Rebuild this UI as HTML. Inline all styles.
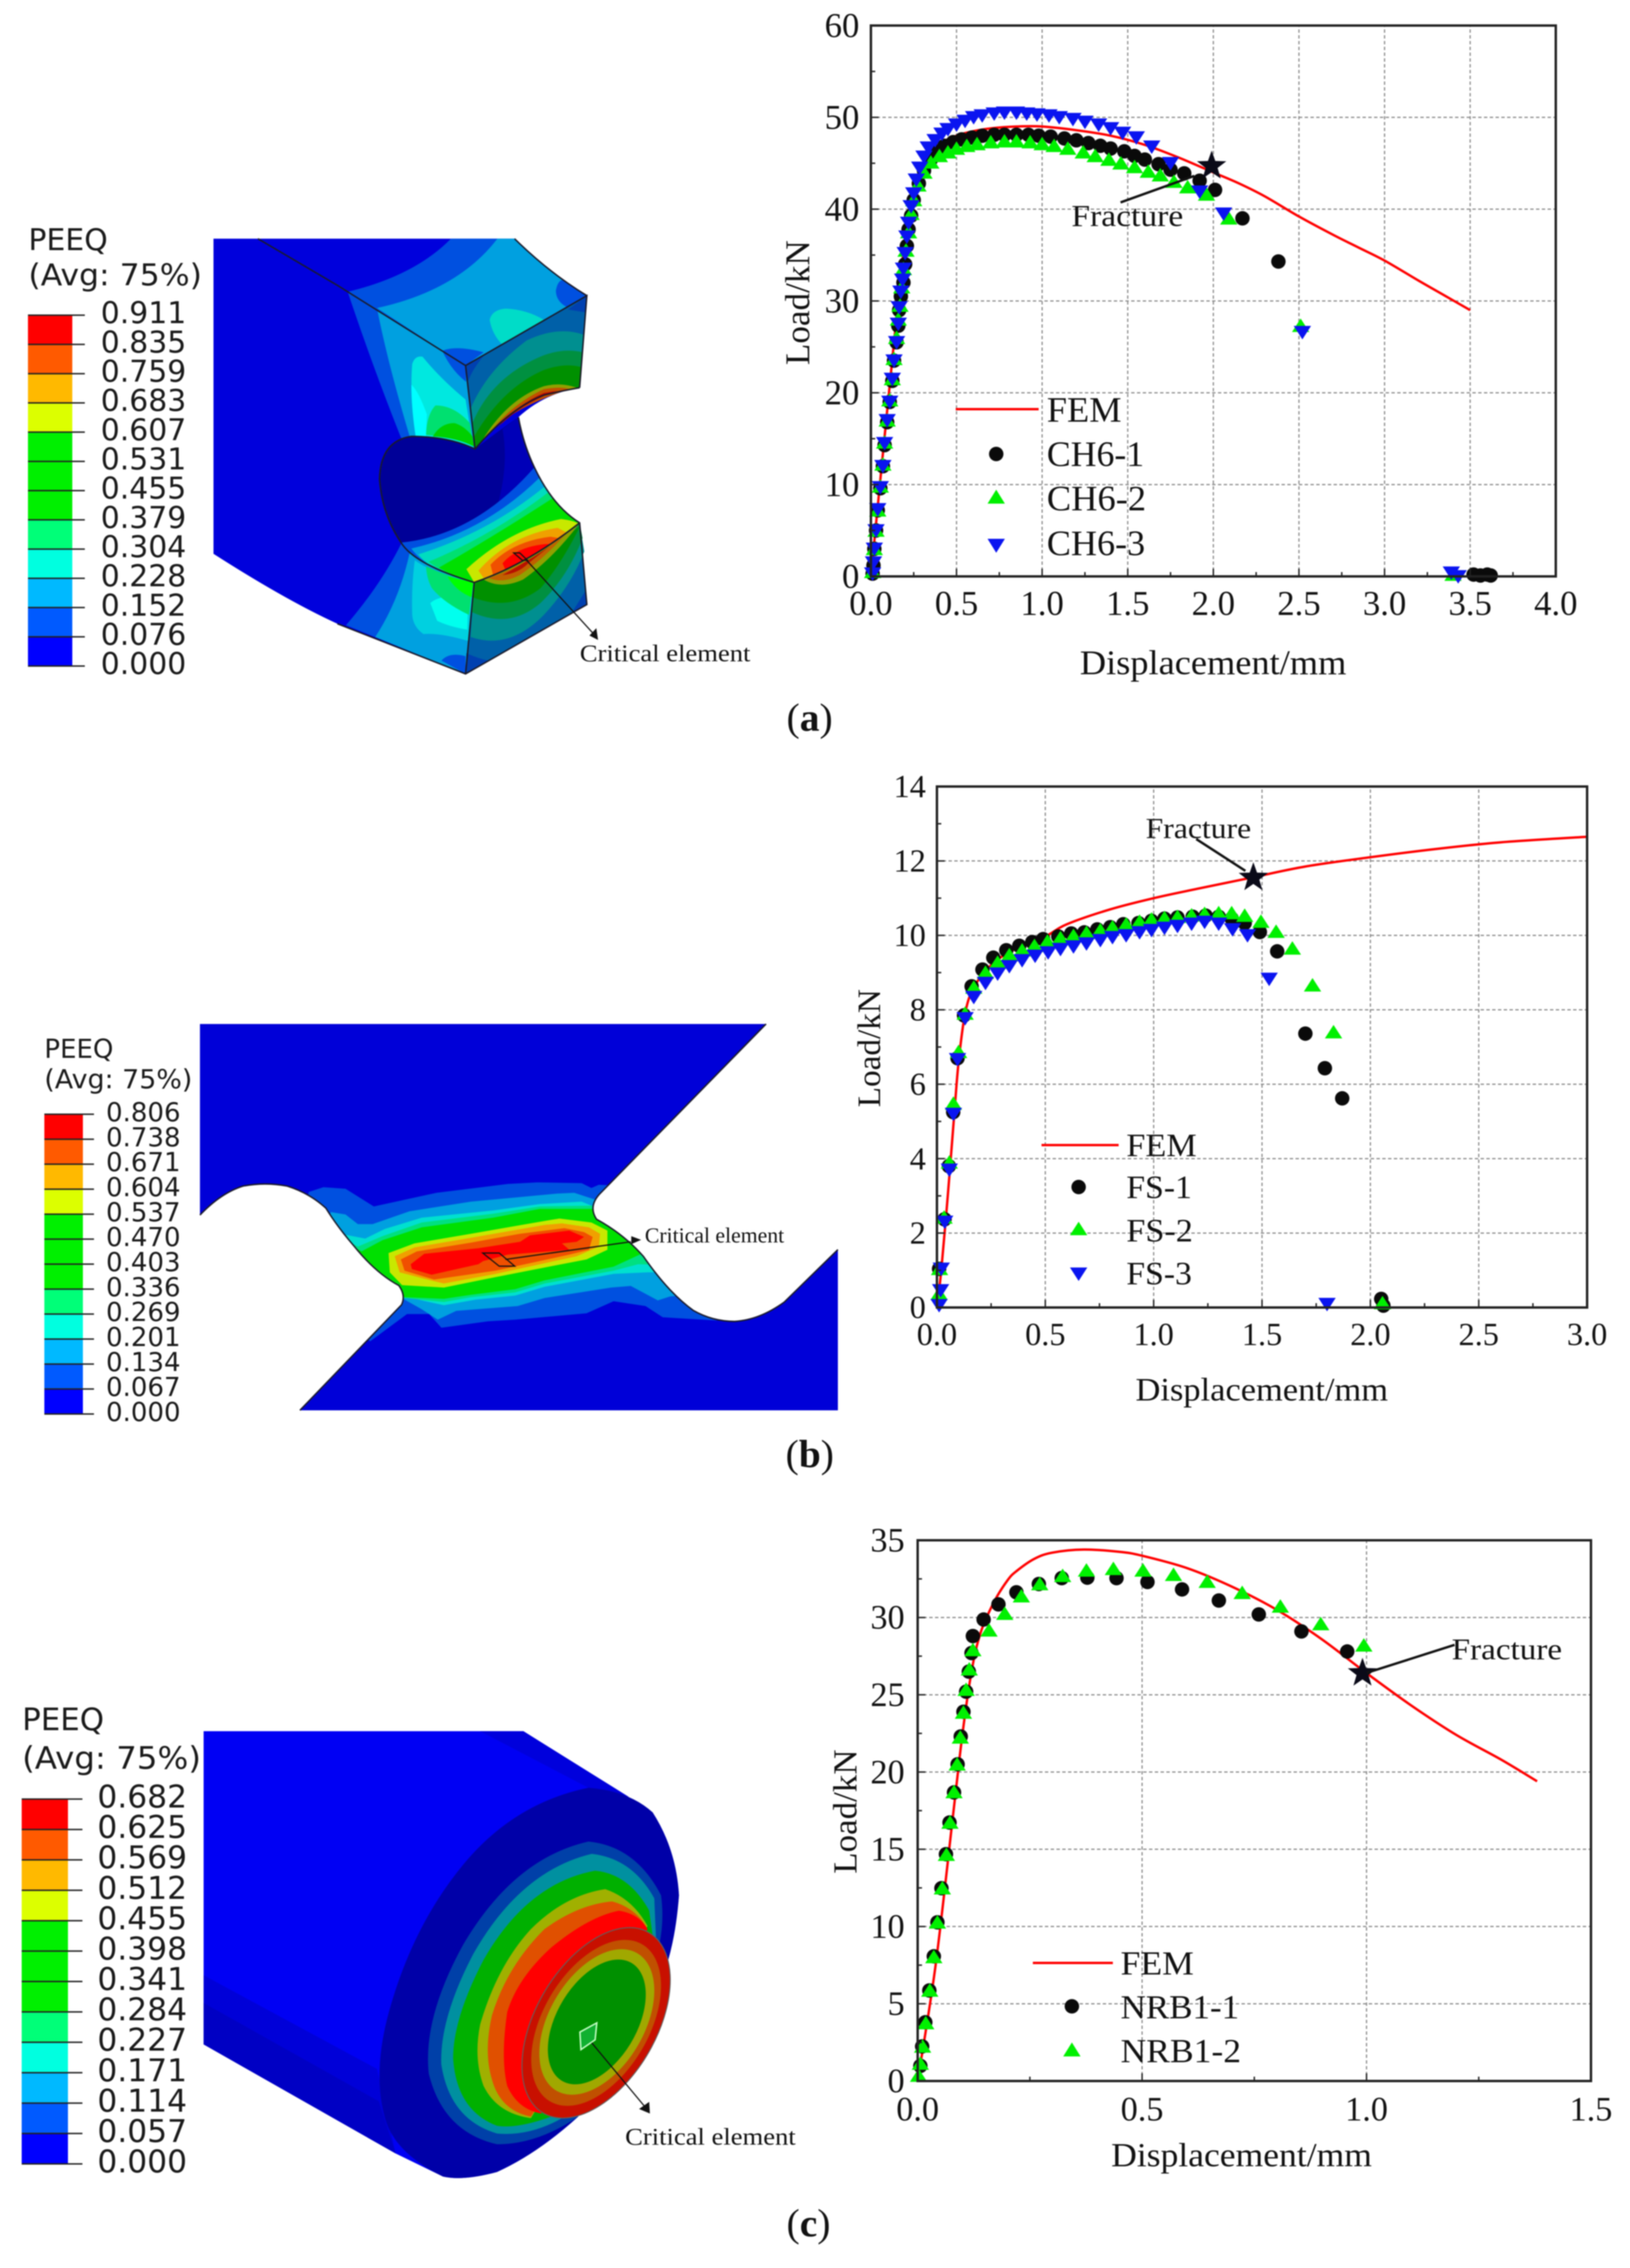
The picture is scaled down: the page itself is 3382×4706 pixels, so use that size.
<!DOCTYPE html>
<html lang="en">
<head>
<meta charset="utf-8">
<title>Load-displacement curves and PEEQ contours</title>
<style>
html,body{margin:0;padding:0;background:#fff;}
body{width:3382px;height:4706px;overflow:hidden;position:relative;}
svg{position:absolute;left:0;top:0;filter:blur(1.2px);}
text{font-family:"Liberation Serif",serif;fill:#111;}
.sans{font-family:"DejaVu Sans","Liberation Sans",sans-serif;fill:#1a1a1a;}
.edge{fill:none;stroke:#1a1a2a;stroke-width:3;vector-effect:non-scaling-stroke;}
.thin{fill:none;stroke:#111;stroke-width:2.5;vector-effect:non-scaling-stroke;}
</style>
</head>
<body>
<svg xmlns="http://www.w3.org/2000/svg" width="3382" height="4706" viewBox="0 0 3382 4706">
<defs>
  <clipPath id="bClip">
    <path transform="translate(0,2080) scale(1.146,0.573)" d="M362,78 L1387,78 L1085,695 Q1065,740 1080,785 Q1130,840 1165,920 Q1210,1050 1255,1115 Q1290,1155 1330,1155 Q1375,1150 1420,1085 L1517,895 L1517,1477 L543,1477 L727,1095 Q735,1060 722,1025 Q680,980 640,880 Q610,810 590,745 Q560,690 520,665 Q480,650 440,665 Q400,690 362,770Z"/>
  </clipPath>
</defs>

<!-- ============ FE CONTOUR A ============ -->
<g transform="translate(700,480) scale(0.357,0.6122)">
  <path fill="#0000dc" d="M-720,25 L1030,25 Q1230,140 1450,218 L1408,530 Q1200,550 1052,630 Q1080,720 1145,800 Q1250,930 1408,988 L1450,1265 L745,1500 L0,1330 Q-300,1250 -720,1093Z"/>
  <!-- upper front face -->
  <path fill="#0050e0" d="M60,205 L745,455 L795,735 L370,700 Q200,450 60,205Z"/>
  <path fill="#00a0e0" d="M230,260 L745,455 L795,735 L420,695 Q290,440 230,260Z"/>
  <path fill="#00e8e0" d="M435,450 Q450,420 495,425 Q600,500 745,570 L790,730 L455,695 Q420,550 435,450Z"/>
  <path fill="#00ffff" d="M430,520 Q470,540 520,620 L515,695 L455,695 Q430,600 430,520Z"/>
  <path fill="#00e070" d="M515,690 Q520,620 570,590 Q680,590 770,650 L790,725 Q650,695 515,690Z"/>
  <path fill="#00d000" d="M555,695 Q600,650 680,650 Q740,660 785,695 L795,730 Q700,700 555,695Z"/>
  <path fill="#0050e0" d="M610,405 L745,455 L748,510 Q660,470 610,405Z"/>
  <!-- top face -->
  <path fill="#0050e0" d="M660,25 L1030,25 Q1230,140 1450,218 L745,455 L60,205 Q450,150 660,25Z"/>
  <path fill="#00a0e0" d="M930,25 L1030,25 Q1230,140 1450,218 L745,455 L230,260 Q700,200 930,25Z"/>
  <path fill="#00dcc8" d="M885,300 Q900,265 980,262 Q1100,265 1200,300 L960,385 Q900,350 885,300Z"/>
  <path fill="#0050e0" d="M1450,218 L1345,260 Q1270,240 1270,200 Q1280,170 1305,165Z"/>
  <path fill="#0050e0" d="M610,405 Q690,385 850,410 L745,455Z"/>
  <!-- upper right face -->
  <path fill="#0060a8" d="M745,455 L1450,218 L1408,530 Q1310,540 1200,555 Q1000,600 800,738Z"/>
  <path fill="#0040b0" d="M745,455 L860,415 Q780,470 755,515Z"/>
  <path fill="#0040b0" d="M1450,218 L1340,265 L1445,275Z"/>
  <path fill="#008f90" d="M775,600 Q870,470 1100,370 Q1280,320 1430,350 L1408,530 Q1310,540 1200,555 Q1000,600 800,738Z"/>
  <path fill="#009040" d="M785,650 Q900,490 1200,420 Q1320,395 1425,410 L1408,530 Q1310,540 1200,555 Q1000,600 800,738Z"/>
  <path fill="#009000" d="M795,695 Q960,530 1200,470 Q1320,445 1415,460 L1408,530 Q1310,540 1200,555 Q1000,600 800,738Z"/>
  <path fill="#90a000" d="M830,720 Q980,570 1200,525 Q1300,510 1400,532 L1200,555 Q1000,600 800,738Z"/>
  <path fill="#c05000" d="M870,695 Q1000,590 1200,535 Q1300,525 1350,535 Q1000,600 870,695Z"/>
  <path fill="#c00000" d="M930,665 Q1050,585 1200,548 L1280,540 Q1080,580 930,665Z"/>
  <!-- hole surface -->
  <path fill="#000098" d="M800,738 Q650,695 430,695 Q250,710 245,840 Q260,960 370,1055 Q600,1040 800,990 Q1000,930 1145,800 Q1080,720 1052,630 Q950,670 800,738Z"/>
  <path fill="#0000b8" d="M1052,630 Q1080,720 1145,800 Q1040,900 920,950 Q1000,800 960,670Z"/>
  <!-- lower left face -->
  <path fill="#0050e0" d="M370,1060 Q500,1150 795,1190 L745,1500 L50,1335 Q250,1200 370,1060Z"/>
  <path fill="#00a0e0" d="M420,1090 Q550,1150 795,1190 L745,1500 L220,1375 Q360,1250 420,1090Z"/>
  <path fill="#00d0e0" d="M450,1115 Q560,1160 795,1190 L770,1390 Q600,1360 500,1365 Q440,1340 435,1300 Q430,1200 450,1115Z"/>
  <path fill="#00ffee" d="M540,1260 Q620,1220 760,1260 L755,1350 Q650,1340 580,1320Z"/>
  <path fill="#00e070" d="M515,1135 Q640,1170 790,1190 L765,1300 Q620,1260 550,1210 Q520,1180 515,1135Z"/>
  <path fill="#00ff00" d="M640,1170 L790,1190 L780,1240 Q690,1220 640,1170Z"/>
  <path fill="#0050e0" d="M605,1455 Q650,1425 745,1440 L745,1500Z"/>
  <!-- neck bands -->
  <path fill="#0050e0" d="M370,1055 Q800,1030 1145,800 Q1250,930 1408,988 Q1100,1130 795,1190 Q500,1150 370,1055Z"/>
  <path fill="#00a0e0" d="M430,1075 Q850,1020 1175,835 Q1260,930 1408,988 Q1100,1130 795,1190 Q520,1150 430,1075Z"/>
  <path fill="#00dcc0" d="M470,1095 Q880,1020 1205,865 Q1280,940 1408,988 Q1100,1130 795,1190 Q560,1160 470,1095Z"/>
  <path fill="#00e070" d="M530,1120 Q900,1030 1225,885 Q1300,950 1408,988 Q1100,1130 795,1190 Q620,1160 530,1120Z"/>
  <path fill="#00e000" d="M590,1140 Q920,1030 1250,905 Q1320,960 1408,988 Q1100,1130 795,1190 Q680,1170 590,1140Z"/>
  <path fill="#c8e800" d="M750,1145 Q1000,1010 1300,975 Q1370,980 1400,990 Q1100,1130 795,1190Z"/>
  <path fill="#f0a000" d="M820,1150 Q1000,1030 1280,1005 L1330,1020 Q1100,1130 850,1175Z"/>
  <path fill="#f05000" d="M890,1130 Q1020,1050 1240,1035 L1290,1040 Q1100,1120 905,1165Z"/>
  <path fill="#ff0000" d="M960,1125 Q1040,1070 1210,1060 L1240,1060 Q1100,1120 975,1145Z"/>
  <!-- lower right face -->
  <path fill="#0060a8" d="M795,1190 Q1100,1130 1408,988 L1450,1265 L745,1500Z"/>
  <path fill="#0040b0" d="M745,1500 L750,1430 Q830,1450 880,1455Z"/>
  <path fill="#0040b0" d="M1450,1265 L1365,1290 Q1420,1240 1445,1215Z"/>
  <path fill="#008f90" d="M775,1375 Q1000,1420 1200,1300 Q1360,1200 1435,1085 L1408,988 Q1100,1130 795,1190Z"/>
  <path fill="#009040" d="M780,1290 Q1000,1350 1180,1260 Q1340,1170 1425,1040 L1408,988 Q1100,1130 795,1190Z"/>
  <path fill="#009000" d="M785,1240 Q1000,1290 1180,1210 Q1300,1130 1410,1000 Q1100,1130 795,1190Z"/>
  <path fill="#90a000" d="M850,1180 Q950,1215 1080,1180 Q1250,1110 1400,995 Q1100,1130 850,1180Z"/>
  <path fill="#c06000" d="M880,1175 Q960,1195 1060,1165 Q1200,1110 1320,1030 Q1100,1130 880,1175Z"/>
  <path fill="#b81000" d="M960,1165 Q1050,1160 1110,1125 L1240,1065 Q1100,1120 960,1165Z"/>
  <path class="edge" d="M-462,25 L0,183 L745,455 L1450,218 L1408,530 M745,455 L800,738 M800,738 Q1000,600 1200,555 Q1310,540 1408,530 M1030,25 Q1230,140 1450,218 M800,738 Q650,695 430,695 Q250,710 245,840 Q260,960 370,1055 Q450,1130 795,1190 Q1100,1130 1408,988 M795,1190 L745,1500 M1052,630 Q1080,720 1145,800 Q1250,930 1408,988 L1450,1265 L745,1500 L0,1330"/>
  <path class="thin" d="M1025,1090 L1060,1090 L1105,1115 L1075,1115Z"/>
  <path class="thin" d="M1100,1115 L1490,1365"/>
  <path fill="#111" d="M1515,1385 L1465,1370 L1505,1345Z"/>
</g>
<text x="1203" y="1372" font-size="50" textLength="354" lengthAdjust="spacingAndGlyphs">Critical element</text>
<g id="cbA"></g>
<text class="sans" x="59" y="519" font-size="62">PEEQ</text>
<text class="sans" x="59" y="592" font-size="62" textLength="360" lengthAdjust="spacingAndGlyphs">(Avg: 75%)</text>

<!-- ============ FE CONTOUR B ============ -->
<path fill="#0000d8" transform="translate(0,2080) scale(1.146,0.573)" d="M362,78 L1387,78 L1085,695 Q1065,740 1080,785 Q1130,840 1165,920 Q1210,1050 1255,1115 Q1290,1155 1330,1155 Q1375,1150 1420,1085 L1517,895 L1517,1477 L543,1477 L727,1095 Q735,1060 722,1025 Q680,980 640,880 Q610,810 590,745 Q560,690 520,665 Q480,650 440,665 Q400,690 362,770Z"/>
<g clip-path="url(#bClip)">
 <g transform="translate(620,2380) scale(0.5102,0.3333)">
  <path fill="#0050e0" d="M40,280 L100,250 L190,260 L305,370 L560,285 L850,230 L970,220 L1150,225 L1190,255 L1220,235 L1300,240 L1700,700 L1700,1080 L1480,1060 L1410,990 L1280,960 L1170,1035 L880,1075 L770,1085 L580,1125 L530,1040 L440,1040 L290,1210 L0,800Z"/>
  <path fill="#00a0e0" d="M130,405 L190,420 L240,480 L300,480 L450,400 L700,340 L1050,290 L1120,285 L1210,330 L1600,700 L1600,920 L1510,930 L1460,955 L1350,865 L1270,875 L1000,940 L890,990 L640,1020 L565,1075 L500,1010 L430,950 L100,700Z"/>
  <path fill="#00e0d0" d="M185,545 L270,570 L350,510 L500,440 L790,395 L980,355 L1150,340 L1215,380 L1600,600 L1600,780 L1420,780 L1280,790 L1000,870 L880,925 L720,950 L590,985 L530,965 L430,930 L100,500Z"/>
  <path fill="#00e080" d="M240,620 L340,555 L500,470 L790,415 L980,370 L1190,365 L1600,600 L1600,740 L1380,730 L1280,770 L1000,850 L880,905 L700,935 L590,965 L430,940 L100,500Z"/>
  <path fill="#00e000" d="M255,650 L340,580 L500,500 L790,440 L980,385 L1200,385 L1600,500 L1400,660 L1280,745 L1000,830 L880,885 L700,920 L590,945 L430,935 L100,500Z"/>
  <path fill="#c8e800" d="M365,660 L470,600 L700,540 L1000,460 L1060,445 L1190,470 L1255,520 L1255,640 L1170,700 L1000,750 L800,810 L590,875 L420,860 L370,780Z"/>
  <path fill="#f0a000" d="M390,680 L470,625 L700,565 L1000,485 L1070,475 L1180,500 L1225,540 L1220,620 L1130,680 L800,790 L590,850 L510,820 L410,780Z"/>
  <path fill="#f05000" d="M415,700 L480,650 L700,595 L900,540 L1080,505 L1160,530 L1195,560 L1180,640 L1100,670 L800,770 L550,825 L430,770Z"/>
  <path fill="#ff0000" d="M455,730 L510,665 L730,630 L900,590 L940,550 L1100,520 L1160,560 L1130,590 L1070,600 L1100,640 L850,670 L750,710 L730,730 L540,795 L460,760Z"/>
 </g>
</g>
<path class="edge" transform="translate(0,2080) scale(1.146,0.573)" d="M1387,78 L1085,695 Q1065,740 1080,785 Q1130,840 1165,920 Q1210,1050 1255,1115 Q1290,1155 1330,1155 Q1375,1150 1420,1085 L1517,895 M543,1477 L727,1095 Q735,1060 722,1025 Q680,980 640,880 Q610,810 590,745 Q560,690 520,665 Q480,650 440,665 Q400,690 362,770"/>
<g transform="translate(620,2380) scale(0.5102,0.3333)">
  <path class="thin" d="M748,660 L815,660 L878,742 L815,742Z M840,700 L1350,590"/>
  <path fill="#111" d="M1392,578 L1352,555 L1352,605Z"/>
</g>
<text x="1338" y="2578" font-size="44" textLength="289" lengthAdjust="spacingAndGlyphs">Critical element</text>
<g id="cbB"></g>
<text class="sans" x="92" y="2195" font-size="54">PEEQ</text>
<text class="sans" x="92" y="2258" font-size="54" textLength="307" lengthAdjust="spacingAndGlyphs">(Avg: 75%)</text>

<!-- ============ FE CONTOUR C ============ -->
<g transform="translate(400,3550) scale(0.7015,0.6378)">
  <path fill="#0000f4" d="M32,66 L978,66 L1360,330 Q1430,450 1438,600 Q1430,720 1405,815 L1140,1320 Q1020,1440 900,1500 Q800,1530 740,1515 L600,1440 L32,1085Z"/>
  <path fill="#0000d8" d="M32,860 L545,1165 L600,1440 L32,1085Z"/>
  <path fill="#0000c4" d="M32,950 L550,1270 L600,1440 L32,1085Z"/>
  <path fill="#0000dc" d="M850,66 L978,66 L1290,280 L1170,250Z"/>
  <path fill="#0000a8" d="M1170,250 Q1290,260 1360,330 Q1430,450 1438,600 Q1430,720 1405,815 L1140,1320 Q1020,1440 900,1500 Q800,1530 740,1515 Q600,1440 570,1330 Q530,1180 580,980 Q650,700 800,500 Q950,300 1170,250Z"/>
  <g>
    <path fill="#0040a8" d="M1170,425 Q1310,440 1385,600 Q1395,680 1380,760 L1140,1320 Q1020,1410 900,1410 Q740,1370 698,1180 Q680,1000 800,760 Q950,480 1170,425Z"/>
    <path fill="#0090a0" d="M1180,465 Q1300,480 1365,610 L1370,740 L1100,1320 Q1000,1385 900,1375 Q760,1330 735,1150 Q730,1000 830,790 Q970,520 1180,465Z"/>
    <path fill="#00b000" d="M1190,520 Q1290,530 1350,650 L1360,730 L1060,1320 Q960,1360 900,1350 Q780,1300 770,1130 Q770,1000 860,810 Q990,560 1190,520Z"/>
    <path fill="#a0b000" d="M1220,580 Q1300,610 1345,700 L1000,1325 Q900,1310 860,1220 Q830,1130 850,1020 Q900,830 1000,710 Q1100,600 1220,580Z"/>
    <path fill="#e05000" d="M1240,620 Q1310,640 1345,710 L1000,1320 Q910,1300 885,1200 Q860,1110 885,990 Q930,830 1040,710 Q1140,630 1240,620Z"/>
    <path fill="#ff0000" d="M1260,650 Q1320,660 1345,710 L1030,1310 Q960,1295 930,1220 Q910,1130 930,980 Q960,870 1060,770 Q1170,670 1260,650Z"/>
  </g>
  <g>
    <ellipse fill="#c81000" stroke="#606060" stroke-width="2" vector-effect="non-scaling-stroke" cx="1193" cy="1015" rx="182" ry="333" transform="rotate(26 1193 1015)"/>
    <ellipse fill="#c05000" cx="1193" cy="1015" rx="160" ry="290" transform="rotate(26 1193 1015)"/>
    <ellipse fill="#a0a800" cx="1195" cy="1012" rx="143" ry="254" transform="rotate(26 1195 1012)"/>
    <ellipse fill="#009000" cx="1195" cy="1012" rx="121" ry="218" transform="rotate(26 1195 1012)"/>
  </g>
  <path fill="#10b030" stroke="#c8ffc8" stroke-width="3" vector-effect="non-scaling-stroke" d="M1145,1045 L1195,1015 L1190,1070 L1148,1102Z"/>
  <path class="thin" d="M1180,1080 L1335,1285"/>
  <path fill="#111" d="M1352,1310 L1320,1295 L1350,1272Z"/>
</g>
<text x="1297" y="4450" font-size="50" textLength="354" lengthAdjust="spacingAndGlyphs">Critical element</text>
<g id="cbC"></g>
<text class="sans" x="46" y="3590" font-size="64">PEEQ</text>
<text class="sans" x="46" y="3670" font-size="64" textLength="371" lengthAdjust="spacingAndGlyphs">(Avg: 75%)</text>

<!-- ============ CHARTS ============ -->
<g id="chartA"></g>
<g id="chartB"></g>
<g id="chartC"></g>

<!-- chart A titles, legend, annotation -->
<text x="2517" y="1399" font-size="72" text-anchor="middle" textLength="553" lengthAdjust="spacingAndGlyphs">Displacement/mm</text>
<text transform="translate(1679,628) rotate(-90)" font-size="72" text-anchor="middle" textLength="259" lengthAdjust="spacingAndGlyphs">Load/kN</text>
<text x="2223" y="469" font-size="64" textLength="232" lengthAdjust="spacingAndGlyphs">Fracture</text>
<line x1="2325" y1="420" x2="2478" y2="365" stroke="#111" stroke-width="5"/>
<g>
  <line x1="1983" y1="849" x2="2155" y2="849" stroke="#f00" stroke-width="5"/>
  <text x="2172" y="875" font-size="74" textLength="155" lengthAdjust="spacingAndGlyphs">FEM</text>
  <circle cx="2067" cy="942" r="15" fill="#0a0a0a"/>
  <text x="2172" y="967" font-size="74" textLength="202" lengthAdjust="spacingAndGlyphs">CH6-1</text>
  <path d="M2067,1016 L2085,1045 L2049,1045Z" fill="#00f000"/>
  <text x="2172" y="1059" font-size="74" textLength="206" lengthAdjust="spacingAndGlyphs">CH6-2</text>
  <path d="M2049,1118 L2085,1118 L2067,1147Z" fill="#0a14f0"/>
  <text x="2172" y="1152" font-size="74" textLength="204" lengthAdjust="spacingAndGlyphs">CH6-3</text>
</g>
<text x="1632" y="1516" font-size="82">(<tspan font-weight="bold">a</tspan>)</text>

<!-- chart B titles, legend, annotation -->
<text x="2618" y="2906" font-size="68" text-anchor="middle" textLength="524" lengthAdjust="spacingAndGlyphs">Displacement/mm</text>
<text transform="translate(1826,2175) rotate(-90)" font-size="68" text-anchor="middle" textLength="245" lengthAdjust="spacingAndGlyphs">Load/kN</text>
<text x="2377" y="1739" font-size="60" textLength="219" lengthAdjust="spacingAndGlyphs">Fracture</text>
<line x1="2482" y1="1741" x2="2584" y2="1807" stroke="#111" stroke-width="5"/>
<g>
  <line x1="2161" y1="2376" x2="2321" y2="2376" stroke="#f00" stroke-width="5"/>
  <text x="2337" y="2399" font-size="68" textLength="146" lengthAdjust="spacingAndGlyphs">FEM</text>
  <circle cx="2238" cy="2463" r="15" fill="#0a0a0a"/>
  <text x="2337" y="2486" font-size="68" textLength="136" lengthAdjust="spacingAndGlyphs">FS-1</text>
  <path d="M2238,2535 L2256,2563 L2220,2563Z" fill="#00f000"/>
  <text x="2337" y="2576" font-size="68" textLength="138" lengthAdjust="spacingAndGlyphs">FS-2</text>
  <path d="M2220,2630 L2256,2630 L2238,2658Z" fill="#0a14f0"/>
  <text x="2337" y="2665" font-size="68" textLength="136" lengthAdjust="spacingAndGlyphs">FS-3</text>
</g>
<text x="1630" y="3044" font-size="82">(<tspan font-weight="bold">b</tspan>)</text>

<!-- chart C titles, legend, annotation -->
<text x="2576" y="4495" font-size="70" text-anchor="middle" textLength="541" lengthAdjust="spacingAndGlyphs">Displacement/mm</text>
<text transform="translate(1777,3759) rotate(-90)" font-size="70" text-anchor="middle" textLength="258" lengthAdjust="spacingAndGlyphs">Load/kN</text>
<text x="3012" y="3443" font-size="62" textLength="229" lengthAdjust="spacingAndGlyphs">Fracture</text>
<line x1="3018" y1="3413" x2="2836" y2="3471" stroke="#111" stroke-width="5"/>
<g>
  <line x1="2143" y1="4073" x2="2309" y2="4073" stroke="#f00" stroke-width="5"/>
  <text x="2325" y="4097" font-size="70" textLength="152" lengthAdjust="spacingAndGlyphs">FEM</text>
  <circle cx="2224" cy="4163" r="15" fill="#0a0a0a"/>
  <text x="2325" y="4188" font-size="70" textLength="246" lengthAdjust="spacingAndGlyphs">NRB1-1</text>
  <path d="M2224,4238 L2242,4267 L2206,4267Z" fill="#00f000"/>
  <text x="2325" y="4279" font-size="70" textLength="250" lengthAdjust="spacingAndGlyphs">NRB1-2</text>
</g>
<text x="1632" y="4640" font-size="82">(<tspan font-weight="bold">c</tspan>)</text>
</svg>

<script>
/* ---------- colour bar labels ---------- */
const bandColors = ["#ff0000","#ff5a00","#ffb900","#dcff00","#00f000","#00f000","#00f000","#00ff78","#00ffe0","#00b9ff","#005aff","#0000ff"];
const cbLabelsA = ["0.911","0.835","0.759","0.683","0.607","0.531","0.455","0.379","0.304","0.228","0.152","0.076","0.000"];
const cbLabelsB = ["0.806","0.738","0.671","0.604","0.537","0.470","0.403","0.336","0.269","0.201","0.134","0.067","0.000"];
const cbLabelsC = ["0.682","0.625","0.569","0.512","0.455","0.398","0.341","0.284","0.227","0.171","0.114","0.057","0.000"];

/* ---------- chart A ---------- */
const aXTicks = ["0.0","0.5","1.0","1.5","2.0","2.5","3.0","3.5","4.0"];
const aYTicks = ["0","10","20","30","40","50","60"];
const aFemX = [0,0.1,0.2,0.25,0.3,0.4,0.5,0.6,0.7,0.85,1,1.2,1.4,1.6,1.8,2,2.15,2.3,2.5,2.7,2.85,3,3.2,3.35,3.5];
const aFemY = [0,19,37,42,44.5,47,48,48.5,48.8,49,49,48.6,48,47,45.6,44,42.8,41.4,39.2,37.2,35.8,34.4,32.2,30.6,29];
const aS1X = [0.01,0.015,0.02,0.03,0.04,0.055,0.07,0.08,0.095,0.11,0.125,0.135,0.15,0.16,0.165,0.175,0.19,0.2,0.21,0.22,0.235,0.25,0.28,0.31,0.35,0.39,0.43,0.48,0.53,0.59,0.65,0.72,0.78,0.85,0.92,0.98,1.05,1.13,1.2,1.27,1.34,1.4,1.48,1.54,1.6,1.68,1.75,1.83,1.92,2.01,2.17,2.38,3.52,3.56,3.6,3.62];
const aS1Y = [0.3,1.2,3,5,7.2,9.6,12,14.3,16.8,19,21.3,23.5,25.5,27.3,29,30.5,32,34,36,37.8,39.3,41,42.8,44.2,45.4,46.3,46.9,47.3,47.6,47.8,48,48.1,48.1,48.1,48.1,48,47.9,47.7,47.5,47.2,46.9,46.6,46.3,45.8,45.4,44.9,44.3,43.9,43.1,42.1,39,34.3,0.2,0.1,0.2,0.1];
const aS2X = [0.01,0.02,0.03,0.04,0.055,0.07,0.08,0.095,0.11,0.125,0.135,0.15,0.16,0.17,0.18,0.19,0.205,0.22,0.235,0.25,0.275,0.31,0.35,0.4,0.45,0.5,0.56,0.62,0.7,0.78,0.85,0.93,1,1.07,1.15,1.24,1.31,1.39,1.46,1.54,1.62,1.69,1.77,1.85,1.96,2.09,2.51,3.4];
const aS2Y = [0.5,3,5,7.2,9.8,12.2,14.6,17,19.2,21.5,23.7,26,28,29.5,31.5,33.5,35.5,37.5,39.5,41,42.6,44,45.1,45.8,46.2,46.6,46.9,47.1,47.3,47.4,47.4,47.3,47.1,46.9,46.6,46.2,45.8,45.4,45,44.6,44.1,43.7,43,42.4,41.6,39,27.3,0.2];
const aS3X = [0.01,0.015,0.02,0.03,0.04,0.055,0.07,0.08,0.095,0.11,0.125,0.135,0.15,0.16,0.165,0.175,0.185,0.19,0.2,0.21,0.22,0.235,0.25,0.265,0.285,0.31,0.335,0.375,0.415,0.45,0.5,0.55,0.6,0.65,0.72,0.78,0.85,0.91,0.97,1.04,1.1,1.18,1.25,1.33,1.4,1.47,1.55,1.64,1.75,1.92,2.06,2.52,3.39,3.43];
const aS3Y = [0.3,1.5,3,5,7.3,9.7,12,14.5,17,19,21.5,23.5,25.5,27.5,29.3,31,32.3,33.5,35.2,37,38.5,40.3,41.7,43.2,44.5,45.7,46.7,47.5,48.2,48.7,49.2,49.6,50,50.2,50.4,50.5,50.5,50.4,50.3,50.2,50,49.8,49.5,49.2,48.8,48.3,47.8,46.8,45,41.9,39.5,26.6,0.4,0];
const aStarX = [1.99];
const aStarY = [44.7];

/* ---------- chart B ---------- */
const bXTicks = ["0.0","0.5","1.0","1.5","2.0","2.5","3.0"];
const bYTicks = ["0","2","4","6","8","10","12","14"];
const bFemX = [0,0.02,0.05,0.08,0.1,0.13,0.17,0.25,0.35,0.5,0.6,0.8,1,1.2,1.45,1.7,2,2.3,2.6,3];
const bFemY = [0,1,3,5.2,6.6,7.9,8.6,9.2,9.6,9.97,10.3,10.7,11,11.25,11.55,11.85,12.1,12.32,12.5,12.65];
const bS1X = [0.01,0.035,0.055,0.075,0.095,0.125,0.16,0.21,0.26,0.32,0.38,0.44,0.49,0.56,0.62,0.68,0.74,0.8,0.86,0.93,0.99,1.05,1.11,1.18,1.24,1.3,1.36,1.42,1.49,1.57,1.7,1.79,1.87,2.05,2.06];
const bS1Y = [1.04,2.37,3.8,5.25,6.7,7.85,8.63,9.08,9.4,9.6,9.72,9.82,9.9,9.97,10.05,10.08,10.16,10.22,10.3,10.33,10.39,10.45,10.48,10.5,10.53,10.5,10.45,10.33,10.09,9.57,7.36,6.43,5.62,0.23,0.05];
const bS2X = [0.01,0.012,0.033,0.057,0.076,0.1,0.13,0.17,0.224,0.28,0.334,0.393,0.45,0.51,0.57,0.63,0.69,0.754,0.81,0.873,0.935,0.99,1.05,1.11,1.175,1.235,1.3,1.36,1.42,1.495,1.565,1.64,1.733,1.83,2.056];
const bS2Y = [0.37,1.04,2.42,3.9,5.48,6.87,7.9,8.6,9,9.27,9.47,9.6,9.72,9.84,9.93,9.99,10.07,10.14,10.22,10.3,10.37,10.43,10.47,10.5,10.54,10.58,10.6,10.6,10.53,10.37,10.1,9.65,8.66,7.4,0.12];
const bS3X = [0.01,0.017,0.02,0.036,0.057,0.076,0.095,0.13,0.17,0.224,0.28,0.334,0.393,0.453,0.513,0.57,0.63,0.69,0.754,0.81,0.873,0.935,0.99,1.05,1.11,1.175,1.235,1.3,1.364,1.433,1.533,1.8];
const bS3Y = [0.06,0.46,1.04,2.3,3.7,5.2,6.67,7.77,8.34,8.72,8.97,9.17,9.33,9.45,9.54,9.63,9.7,9.78,9.87,9.95,10,10.08,10.14,10.2,10.25,10.31,10.36,10.31,10.16,10,8.83,0.09];
const bStarX = [1.46];
const bStarY = [11.55];

/* ---------- chart C ---------- */
const cXTicks = ["0.0","0.5","1.0","1.5"];
const cYTicks = ["0","5","10","15","20","25","30","35"];
const cFemX = [0,0.04,0.08,0.1,0.12,0.14,0.17,0.2,0.22,0.26,0.3,0.37,0.45,0.5,0.6,0.7,0.8,0.9,1,1.1,1.2,1.3,1.38];
const cFemY = [0,7.5,17.5,22.5,26.5,29,31,32.4,33,33.8,34.2,34.4,34.25,34,33.2,32,30.5,28.6,26.4,24.3,22.4,20.8,19.4];
const cS1X = [0.006,0.01,0.017,0.026,0.036,0.044,0.053,0.063,0.071,0.081,0.089,0.096,0.102,0.108,0.114,0.12,0.123,0.147,0.18,0.22,0.27,0.321,0.378,0.443,0.512,0.589,0.671,0.76,0.855,0.957];
const cS1Y = [0.98,2.24,3.8,5.86,8.07,10.27,12.48,14.68,16.73,18.68,20.5,22.3,23.9,25.2,26.5,27.7,28.8,29.87,30.85,31.63,32.17,32.55,32.58,32.55,32.3,31.82,31.1,30.2,29.1,27.8];
const cS2X = [0.002,0.006,0.011,0.018,0.027,0.036,0.044,0.055,0.064,0.072,0.081,0.088,0.095,0.102,0.108,0.115,0.123,0.159,0.194,0.231,0.272,0.323,0.376,0.436,0.502,0.57,0.645,0.723,0.808,0.898,0.994];
const cS2Y = [0.35,1.13,2.24,3.75,5.86,8.03,10.27,12.48,14.65,16.73,18.71,20.5,22.24,23.85,25.33,26.65,27.9,29.17,30.25,31.38,32.17,32.7,33.05,33.15,33.05,32.77,32.32,31.6,30.72,29.58,28.2];
const cStarX = [0.991];
const cStarY = [26.4];

const NS = "http://www.w3.org/2000/svg";
function mk(tag, parent) {
  const e = document.createElementNS(NS, tag);
  parent.appendChild(e);
  return e;
}
function put(e, x, y, str, size, anchor) {
  e.setAttribute("x", x);
  e.setAttribute("y", y);
  e.setAttribute("font-size", size);
  e.setAttribute("text-anchor", anchor);
  e.textContent = str;
}
function smoothPath(px, py) {
  let d = "M" + px[0] + "," + py[0];
  for (let i = 0; i < px.length - 1; i++) {
    const a = Math.max(i - 1, 0), b = i + 1, c = Math.min(i + 2, px.length - 1);
    const c1x = px[i] + (px[b] - px[a]) / 6, c1y = py[i] + (py[b] - py[a]) / 6;
    const c2x = px[b] - (px[c] - px[i]) / 6, c2y = py[b] - (py[c] - py[i]) / 6;
    d += " C" + c1x + "," + c1y + " " + c2x + "," + c2y + " " + px[b] + "," + py[b];
  }
  return d;
}
function drawColorbar(id, x0, x1, xt, yTop, yBot, labels, labelX, size) {
  const g = document.getElementById(id);
  const step = (yBot - yTop) / bandColors.length;
  bandColors.forEach(function (c, i) {
    const r = mk("rect", g);
    
    
    r.setAttribute("x", x0);
    r.setAttribute("y", yTop + i * step);
    r.setAttribute("width", x1 - x0);
    r.setAttribute("height", step);
    r.setAttribute("fill", c);
  });
  labels.forEach(function (s, i) {
    const y = yTop + i * step;
    const l = mk("line", g);
    
    
    l.setAttribute("x1", x0);
    l.setAttribute("x2", xt);
    l.setAttribute("y1", y);
    l.setAttribute("y2", y);
    l.setAttribute("stroke", "#222");
    l.setAttribute("stroke-width", 3);
    const t = mk("text", g);
    
    
    t.setAttribute("class", "sans");
    put(t, labelX, y + size * 0.27, s, size, "start");
  });
}
function drawChart(cfg) {
  const g = document.getElementById(cfg.id);
  const xMax = parseFloat(cfg.xTicks[cfg.xTicks.length - 1]);
  const yMax = parseFloat(cfg.yTicks[cfg.yTicks.length - 1]);
  const sx = function (v) { return cfg.x0 + v / xMax * (cfg.x1 - cfg.x0); };
  const sy = function (v) { return cfg.y0 - v / yMax * (cfg.y0 - cfg.y1); };

  /* grid */
  cfg.xTicks.forEach(function (s) {
    const v = parseFloat(s);
    if (v === 0 || v === xMax) return;
    const l = mk("line", g);
    
    
    l.setAttribute("x1", sx(v));
    l.setAttribute("x2", sx(v));
    l.setAttribute("y1", cfg.y0);
    l.setAttribute("y2", cfg.y1);
    l.setAttribute("stroke", "#8a8a8a");
    l.setAttribute("stroke-width", 2.5);
    l.setAttribute("stroke-dasharray", "7 5");
  });
  cfg.yTicks.forEach(function (s) {
    const v = parseFloat(s);
    if (v === 0 || v === yMax) return;
    const l = mk("line", g);
    
    
    l.setAttribute("x1", cfg.x0);
    l.setAttribute("x2", cfg.x1);
    l.setAttribute("y1", sy(v));
    l.setAttribute("y2", sy(v));
    l.setAttribute("stroke", "#8a8a8a");
    l.setAttribute("stroke-width", 2.5);
    l.setAttribute("stroke-dasharray", "7 5");
  });

  /* FEM curve */
  const p = mk("path", g);
  
  
  p.setAttribute("fill", "none");
  p.setAttribute("stroke", "#f00");
  p.setAttribute("stroke-width", 5);
  p.setAttribute("stroke-linejoin", "round");
  p.setAttribute("d", smoothPath(cfg.femX.map(sx), cfg.femY.map(sy)));

  /* test series */
  cfg.series.forEach(function (s) {
    s.xs.forEach(function (x, i) {
      const cx = sx(x), cy = sy(s.ys[i]);
      let m;
      if (s.kind === "circle") {
        m = mk("circle", g);
        m.setAttribute("cx", cx);
        m.setAttribute("cy", cy);
        m.setAttribute("r", 15);
        m.setAttribute("fill", "#0a0a0a");
      } else if (s.kind === "up") {
        m = mk("path", g);
        m.setAttribute("d", "M" + cx + "," + (cy - 15) + " L" + (cx + 18) + "," + (cy + 13) + " L" + (cx - 18) + "," + (cy + 13) + "Z");
        m.setAttribute("fill", "#00f000");
      } else {
        m = mk("path", g);
        m.setAttribute("d", "M" + (cx - 18) + "," + (cy - 13) + " L" + (cx + 18) + "," + (cy - 13) + " L" + cx + "," + (cy + 15) + "Z");
        m.setAttribute("fill", "#0a14f0");
      }
      
      
    });
  });

  /* frame */
  const f = mk("rect", g);
  
  
  f.setAttribute("x", cfg.x0);
  f.setAttribute("y", cfg.y1);
  f.setAttribute("width", cfg.x1 - cfg.x0);
  f.setAttribute("height", cfg.y0 - cfg.y1);
  f.setAttribute("fill", "none");
  f.setAttribute("stroke", "#222");
  f.setAttribute("stroke-width", 5);

  /* ticks and labels */
  const xStep = parseFloat(cfg.xTicks[1]) - parseFloat(cfg.xTicks[0]);
  const yStep = parseFloat(cfg.yTicks[1]) - parseFloat(cfg.yTicks[0]);
  cfg.xTicks.forEach(function (s, i) {
    const v = parseFloat(s);
    const t = mk("line", g);
    
    
    t.setAttribute("x1", sx(v));
    t.setAttribute("x2", sx(v));
    t.setAttribute("y1", cfg.y0);
    t.setAttribute("y2", cfg.y0 - 16);
    t.setAttribute("stroke", "#222");
    t.setAttribute("stroke-width", 3);
    if (i < cfg.xTicks.length - 1) {
      const m = mk("line", g);
      
      
      m.setAttribute("x1", sx(v + xStep / 2));
      m.setAttribute("x2", sx(v + xStep / 2));
      m.setAttribute("y1", cfg.y0);
      m.setAttribute("y2", cfg.y0 - 9);
      m.setAttribute("stroke", "#222");
      m.setAttribute("stroke-width", 3);
    }
    const l = mk("text", g);
    
    
    put(l, sx(v), cfg.xLabelY, s, cfg.fontSize, "middle");
  });
  cfg.yTicks.forEach(function (s, i) {
    const v = parseFloat(s);
    const t = mk("line", g);
    
    
    t.setAttribute("x1", cfg.x0);
    t.setAttribute("x2", cfg.x0 + 16);
    t.setAttribute("y1", sy(v));
    t.setAttribute("y2", sy(v));
    t.setAttribute("stroke", "#222");
    t.setAttribute("stroke-width", 3);
    if (i < cfg.yTicks.length - 1) {
      const m = mk("line", g);
      
      
      m.setAttribute("x1", cfg.x0);
      m.setAttribute("x2", cfg.x0 + 9);
      m.setAttribute("y1", sy(v + yStep / 2));
      m.setAttribute("y2", sy(v + yStep / 2));
      m.setAttribute("stroke", "#222");
      m.setAttribute("stroke-width", 3);
    }
    const l = mk("text", g);
    
    
    put(l, cfg.yLabelX, sy(v) + cfg.fontSize * 0.33, s, cfg.fontSize, "end");
  });

  /* fracture star */
  cfg.starX.forEach(function (x, i) {
    const cx = sx(x), cy = sy(cfg.starY[i]);
    const pts = [];
    for (let k = 0; k < 10; k++) {
      const r = k % 2 === 0 ? 32 : 13;
      const a = -Math.PI / 2 + k * Math.PI / 5;
      pts.push((cx + r * Math.cos(a)) + "," + (cy + r * Math.sin(a)));
    }
    const st = mk("polygon", g);
    
    
    st.setAttribute("points", pts.join(" "));
    st.setAttribute("fill", "#0a0a18");
  });
}

drawColorbar("cbA", 58, 150, 176, 654, 1382, cbLabelsA, 209, 62);
drawColorbar("cbB", 92, 172, 195, 2312, 2934, cbLabelsB, 220, 54);
drawColorbar("cbC", 45, 141, 171, 3733, 4490, cbLabelsC, 202, 65);

drawChart({ id: "chartA", x0: 1807, x1: 3228, y0: 1196, y1: 53,
  xTicks: aXTicks, yTicks: aYTicks, femX: aFemX, femY: aFemY, starX: aStarX, starY: aStarY,
  series: [{ xs: aS1X, ys: aS1Y, kind: "circle" }, { xs: aS2X, ys: aS2Y, kind: "up" }, { xs: aS3X, ys: aS3Y, kind: "down" }],
  xLabelY: 1276, yLabelX: 1783, fontSize: 72 });
drawChart({ id: "chartB", x0: 1944, x1: 3293, y0: 2713, y1: 1632,
  xTicks: bXTicks, yTicks: bYTicks, femX: bFemX, femY: bFemY, starX: bStarX, starY: bStarY,
  series: [{ xs: bS1X, ys: bS1Y, kind: "circle" }, { xs: bS2X, ys: bS2Y, kind: "up" }, { xs: bS3X, ys: bS3Y, kind: "down" }],
  xLabelY: 2791, yLabelX: 1921, fontSize: 67 });
drawChart({ id: "chartC", x0: 1904, x1: 3301, y0: 4318, y1: 3196,
  xTicks: cXTicks, yTicks: cYTicks, femX: cFemX, femY: cFemY, starX: cStarX, starY: cStarY,
  series: [{ xs: cS1X, ys: cS1Y, kind: "circle" }, { xs: cS2X, ys: cS2Y, kind: "up" }],
  xLabelY: 4400, yLabelX: 1877, fontSize: 71 });
</script>
</body>
</html>
